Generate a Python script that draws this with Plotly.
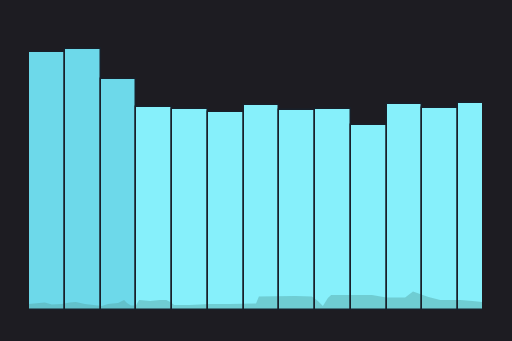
import plotly.graph_objects as go

# Bar data (13 categories)
categories = list(range(13))
bar_values = [258, 261, 231, 203, 201, 198, 205, 200, 201, 185, 206, 202, 207]
bar_colors = ["#6dd9ea"] * 3 + ["#86f0fb"] * 10

# Area series along the bottom (x in category units, y in same units as bars)
area_x = [-0.50, -0.25, -0.06, 0.14, 0.42, 0.64, 0.81, 1.06, 1.37, 1.54, 1.71, 1.99,
          2.16, 2.24, 2.35, 2.49, 2.58, 2.89, 3.17, 3.34, 3.45, 3.56, 4.00, 4.56,
          5.12, 5.85, 5.93, 6.38, 6.94, 7.41, 7.58, 7.72, 7.86, 7.95, 8.48, 9.09,
          9.49, 10.02, 10.24, 10.44, 10.67, 11.00, 11.56, 11.90, 12.17]
area_y = [6, 7, 7.5, 5.5, 6, 7.5, 8, 6, 4.5, 4, 6, 7,
          10, 7, 4.5, 4.5, 10, 9, 10, 10, 8, 5, 5, 6,
          6, 6.5, 13.5, 14, 14, 13.5, 9, 4, 12, 15, 15, 15,
          12.5, 12.5, 18.5, 16, 13, 10, 10, 9, 8]

fig = go.Figure()

fig.add_trace(go.Bar(
    x=categories, y=bar_values, width=1,
    marker=dict(color=bar_colors, line=dict(width=0)),
    hoverinfo="skip", showlegend=False,
))

fig.add_trace(go.Scatter(
    x=area_x, y=area_y, mode="lines", fill="tozeroy",
    line=dict(width=0, color="rgba(88,170,171,0.5)"),
    fillcolor="rgba(88,170,171,0.5)",
    hoverinfo="skip", showlegend=False,
))

# Outline-only bars drawn above the area
fig.add_trace(go.Bar(
    x=categories, y=bar_values, width=1,
    marker=dict(color="rgba(0,0,0,0)", line=dict(width=1.5, color="#18202a")),
    xaxis="x2", yaxis="y2", hoverinfo="skip", showlegend=False,
))

xr = [-0.5, 12.17]
yr = [0, 280]
fig.update_layout(
    width=512, height=341,
    margin=dict(l=29, r=30, t=30, b=31),
    paper_bgcolor="#1d1c22", plot_bgcolor="#1d1c22",
    bargap=0,
    xaxis=dict(range=xr, visible=False, fixedrange=True),
    yaxis=dict(range=yr, visible=False, fixedrange=True),
    xaxis2=dict(range=xr, visible=False, overlaying="x", matches=None),
    yaxis2=dict(range=yr, visible=False, overlaying="y"),
)

fig.write_html("out.html")
